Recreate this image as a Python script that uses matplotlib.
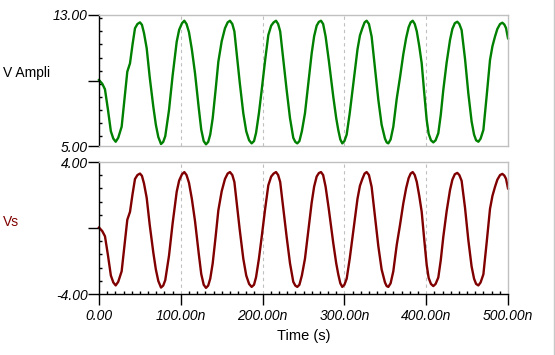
import matplotlib
matplotlib.use("Agg")
import matplotlib.pyplot as plt
from matplotlib.lines import Line2D
from matplotlib.ticker import FixedLocator, MultipleLocator

# ---- data (time in ns) ----
time_ns = [0, 4, 7.3, 11, 14.5, 17.5, 20.4, 23.5, 27.7, 31, 34.6, 37.9, 41, 44, 47, 50.1,
           52.5, 55, 58.3, 62, 66.4, 69.5, 72.5, 75.8, 78.5, 81, 85.6, 90, 95, 98, 101.5,
           104.3, 107, 110, 113.5, 117.4, 122, 125, 128, 130.8, 133.5, 136, 139, 142.5,
           145.9, 150, 154, 157.3, 160.1, 163, 165.5, 168.3, 172, 176.4, 180, 183.5,
           186.6, 189.5, 192, 195.5, 198.9, 203, 207, 210.5, 213.5, 216.4, 219, 221.5,
           225, 229.4, 233.5, 237.5, 240, 242.4, 245, 248, 251.8, 256, 260, 263, 266.1,
           268.8, 271.4, 274, 277, 281, 286.4, 290, 292.5, 295, 297.4, 300, 302.8, 306.5,
           310.9, 316, 319, 322, 324.7, 327.2, 330, 333.3, 337.5, 341.5, 345.5, 349.6,
           351.7, 353.7, 356.5, 359.8, 364, 368, 372, 375.5, 378.5, 381, 383.5, 386,
           388.5, 391.5, 394.5, 397.5, 400.6, 403, 405.8, 408.7, 411.5, 414.8, 417.8,
           420.9, 425, 429.1, 432, 435, 438, 440.5, 443.3, 447.5, 451.5, 455.5, 458.5,
           461, 463.8, 466.5, 469.9, 474, 478.0, 481, 484.1, 487, 490.3, 493.1, 495.5,
           497.6, 500]

v_ampli = [9.03, 8.8, 8.46, 7.2, 5.9, 5.45, 5.26, 5.5, 6.18, 7.8, 9.54, 10.05, 11.2, 12.19, 12.45, 12.55,
           12.4, 11.9, 10.97, 9.2, 7.40, 6.3, 5.55, 5.12, 5.25, 5.6, 7.2, 9.3, 11.37, 12.1, 12.5,
           12.65, 12.45, 11.95, 10.9, 9.44, 7.3, 6.0, 5.3, 5.10, 5.25, 5.7, 6.7, 8.4,
           10.15, 11.4, 12.19, 12.55, 12.65, 12.45, 12.0, 10.66, 8.9, 7.0, 5.9, 5.35,
           5.16, 5.3, 5.8, 7.0, 8.42, 10.2, 11.78, 12.35, 12.55, 12.65, 12.45, 12.0,
           10.4, 8.42, 6.7, 5.5, 5.25, 5.16, 5.3, 5.9, 7.0, 8.9, 10.66, 11.7, 12.35,
           12.58, 12.65, 12.45, 11.7, 10.2, 8.01, 6.7, 5.98, 5.4, 5.16, 5.3, 5.7, 7.0,
           8.83, 10.9, 11.75, 12.2, 12.55, 12.65, 12.45, 11.68, 9.7, 7.81, 6.3, 5.45,
           5.22, 5.16, 5.4, 6.18, 7.9, 9.2, 10.6, 11.6, 12.25, 12.55, 12.65, 12.45,
           12.0, 11.1, 10.05, 8.3, 6.59, 5.75, 5.35, 5.22, 5.35, 5.78, 6.9,
           8.42, 10.1, 11.47, 12.15, 12.5, 12.59, 12.45, 12.08, 10.3, 8.22, 6.5, 5.7,
           5.35, 5.26, 5.45, 5.98, 8.1, 10.25, 11.1, 11.68, 12.15, 12.45, 12.53, 12.42,
           12.2, 11.58]

vs = [0.03, -0.19, -0.50, -1.67, -2.88, -3.30, -3.48, -3.26, -2.62, -1.12, 0.50, 0.98, 2.05, 2.97, 3.21, 3.30,
      3.16, 2.70, 1.83, 0.19, -1.49, -2.51, -3.21, -3.61, -3.49, -3.16, -1.67, 0.28, 2.20, 2.88, 3.26,
      3.39, 3.21, 2.74, 1.77, 0.41, -1.58, -2.79, -3.44, -3.63, -3.49, -3.07, -2.14, -0.56,
      1.07, 2.23, 2.97, 3.30, 3.39, 3.21, 2.79, 1.54, -0.09, -1.86, -2.88, -3.39,
      -3.57, -3.44, -2.98, -1.86, -0.54, 1.12, 2.59, 3.12, 3.30, 3.39, 3.21, 2.79,
      1.30, -0.54, -2.14, -3.26, -3.49, -3.57, -3.44, -2.88, -1.86, -0.09, 1.54, 2.51, 3.12,
      3.33, 3.39, 3.21, 2.51, 1.12, -0.92, -2.14, -2.81, -3.35, -3.57, -3.44, -3.07, -1.86,
      -0.16, 1.77, 2.56, 2.98, 3.30, 3.39, 3.21, 2.49, 0.65, -1.11, -2.51, -3.30,
      -3.52, -3.57, -3.35, -2.62, -1.02, 0.19, 1.49, 2.42, 3.02, 3.30, 3.39, 3.21,
      2.79, 1.95, 0.98, -0.65, -2.24, -3.02, -3.39, -3.52, -3.39, -3.00, -1.95,
      -0.54, 1.02, 2.30, 2.93, 3.26, 3.34, 3.21, 2.86, 1.21, -0.73, -2.33, -3.07,
      -3.39, -3.48, -3.30, -2.81, -0.84, 1.16, 1.95, 2.49, 2.93, 3.21, 3.28, 3.18,
      2.98, 2.40]

x_ticks = [0, 100, 200, 300, 400, 500]
x_tick_labels = ["0.00", "100.00n", "200.00n", "300.00n", "400.00n", "500.00n"]
grid_x = [100, 200, 300, 400]
top_ticks = [5, 9, 13]
top_tick_labels = ["5.00", "", "13.00"]
bot_ticks = [-4, 0, 4]
bot_tick_labels = ["-4.00", "", "4.00"]

n = min(len(time_ns), len(v_ampli), len(vs))

GREEN = "#008000"
DRED = "#800000"
GRAY = "#c0c0c0"
TICKFONT = dict(family="Liberation Sans", style="italic", size=10)

fig = plt.figure(figsize=(5.55, 3.55), dpi=100)
fig.patch.set_facecolor("white")

W, H = 555.0, 355.0
def axrect(l, r, t, b):
    return [l / W, (H - b) / H, (r - l) / W, (b - t) / H]

ax1 = fig.add_axes(axrect(99, 508, 15, 146))
ax2 = fig.add_axes(axrect(99, 508, 162, 294))

def style(ax, ticks, labels, lo, hi, show_x):
    ax.set_xlim(0, 500)
    ax.set_ylim(lo, hi)
    for gx in grid_x:
        ax.axvline(gx, color=GRAY, lw=0.8, ls=(0, (3, 3)), zorder=0)
    for s in ["top", "right"]:
        ax.spines[s].set_color(GRAY)
        ax.spines[s].set_linewidth(1.0)
    ax.spines["left"].set_color("black")
    ax.spines["left"].set_linewidth(1.0)
    ax.yaxis.set_major_locator(FixedLocator(ticks))
    ax.set_yticklabels(labels, **TICKFONT)
    ax.yaxis.set_minor_locator(MultipleLocator(0.8))
    ax.tick_params(axis="y", which="major", direction="out", length=8, width=1, pad=0)
    ax.tick_params(axis="y", which="minor", direction="in", length=2.5, width=1)
    if show_x:
        ax.spines["bottom"].set_color("black")
        ax.spines["bottom"].set_linewidth(1.0)
        ax.xaxis.set_major_locator(FixedLocator(x_ticks))
        ax.set_xticklabels(x_tick_labels, **TICKFONT)
        ax.xaxis.set_minor_locator(MultipleLocator(10))
        ax.tick_params(axis="x", which="major", direction="out", length=8, width=1, pad=3)
        ax.tick_params(axis="x", which="minor", direction="in", length=2.5, width=1)
    else:
        ax.spines["bottom"].set_color(GRAY)
        ax.spines["bottom"].set_linewidth(1.0)
        ax.set_xticks([])

ax1.plot(time_ns[:n], v_ampli[:n], color=GREEN, lw=1.7, clip_on=False,
         solid_joinstyle="round")
style(ax1, top_ticks, top_tick_labels, 5, 13, False)

ax2.plot(time_ns[:n], vs[:n], color=DRED, lw=1.7, clip_on=False,
         solid_joinstyle="round")
style(ax2, bot_ticks, bot_tick_labels, -4, 4, True)
ax2.set_xlabel("Time (s)", family="Liberation Sans", size=10.5, labelpad=4)

fig.text(3 / W, 1 - 73 / H, "V Ampli", family="Liberation Sans", size=10,
         color="black", ha="left", va="center")
fig.text(3 / W, 1 - 222 / H, "Vs", family="Liberation Sans", size=10,
         color=DRED, ha="left", va="center")

fig.add_artist(Line2D([553.5 / W, 553.5 / W], [0, 1], transform=fig.transFigure,
                      color="#c8c8c8", lw=1.0))

fig.savefig("out.png", dpi=100, facecolor="white")
